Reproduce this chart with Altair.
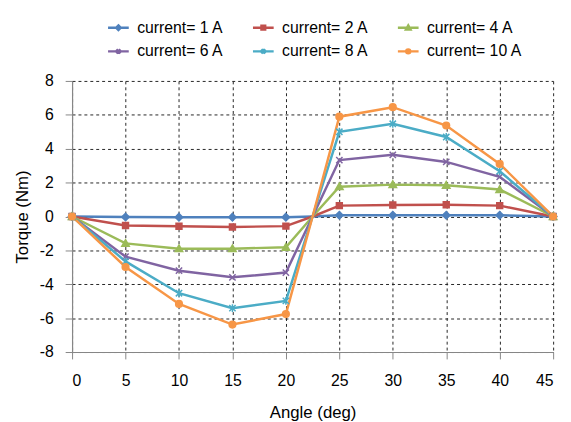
import altair as alt
import pandas as pd

# ---- data ----
angles = [0, 5, 10, 15, 20, 25, 30, 35, 40, 45]
cross_angle = 22.5      # all curves pass through 0 here (no marker drawn)
cross_torque = 0.0
series_names = ["current= 1 A", "current= 2 A", "current= 4 A",
                "current= 6 A", "current= 8 A", "current= 10 A"]
t_1A = [0, -0.03, -0.04, -0.04, -0.04, 0.07, 0.07, 0.07, 0.07, 0]
t_2A = [0, -0.53, -0.58, -0.62, -0.57, 0.64, 0.68, 0.69, 0.64, 0]
t_4A = [0, -1.59, -1.90, -1.90, -1.82, 1.76, 1.88, 1.84, 1.59, 0]
t_6A = [0, -2.37, -3.20, -3.59, -3.31, 3.33, 3.64, 3.22, 2.34, 0]
t_8A = [0, -2.65, -4.53, -5.41, -4.98, 5.00, 5.47, 4.69, 2.67, 0]
t_10A = [0, -2.98, -5.16, -6.38, -5.76, 5.89, 6.45, 5.37, 3.10, 0]
y_ticks = [-8, -6, -4, -2, 0, 2, 4, 6, 8]
x_ticks = [0, 5, 10, 15, 20, 25, 30, 35, 40, 45]

colors = ["#4F81BD", "#C0504D", "#9BBB59", "#8064A2", "#4BACC6", "#F79646"]

# marker shapes (unit box)
marker_paths = [
    "M0,-0.95L0.95,0L0,0.95L-0.95,0Z",
    "M-0.75,-0.75H0.75V0.75H-0.75Z",
    "M0,-0.95L0.95,0.75L-0.95,0.75Z",
    "M-0.8,-0.8L0.8,0.8M-0.8,0.8L0.8,-0.8",
    "M-0.8,-0.8L0.8,0.8M-0.8,0.8L0.8,-0.8M0,-1L0,1",
    "M0.85,0A0.85,0.85,0,1,1,-0.85,0A0.85,0.85,0,1,1,0.85,0Z",
]
# legend symbols: line segment + small marker
legend_paths = [
    "M-1.4,0L1.4,0M0,-0.3L0.3,0L0,0.3L-0.3,0Z",
    "M-1.4,0L1.4,0M-0.25,-0.25H0.25V0.25H-0.25Z",
    "M-1.4,0L1.4,0M0,-0.3L0.3,0.23L-0.3,0.23Z",
    "M-1.4,0L1.4,0M-0.28,-0.28L0.28,0.28M-0.28,0.28L0.28,-0.28",
    "M-1.4,0L1.4,0M-0.28,-0.28L0.28,0.28M-0.28,0.28L0.28,-0.28M0,-0.34L0,0.34",
    "M-1.4,0L1.4,0M0.27,0A0.27,0.27,0,1,1,-0.27,0A0.27,0.27,0,1,1,0.27,0Z",
]

all_vals = [t_1A, t_2A, t_4A, t_6A, t_8A, t_10A]
rows = []
for s, vals in zip(series_names, all_vals):
    for a, v in zip(angles, vals):
        rows.append({"series": s, "angle": a, "torque": v, "marker": True})
    rows.append({"series": s, "angle": cross_angle, "torque": cross_torque, "marker": False})
df = pd.DataFrame(rows)

FONT = "Liberation Sans"

x_enc = alt.X("angle:Q", scale=alt.Scale(domain=[0, 45], nice=False, zero=False),
              axis=alt.Axis(values=x_ticks, title="Angle (deg)", labelPadding=14,
                            titlePadding=16, labelExpr="'' + datum.value"))
y_enc = alt.Y("torque:Q", scale=alt.Scale(domain=[-8, 8], nice=False),
              axis=alt.Axis(values=y_ticks, title="Torque (Nm)", labelPadding=12,
                            titlePadding=8, labelExpr="'' + datum.value"))

color_scale = alt.Scale(domain=series_names, range=colors)

lines = alt.Chart(df).mark_line(strokeWidth=2.5).encode(
    x=x_enc, y=y_enc,
    color=alt.Color("series:N", scale=color_scale, legend=None, sort=series_names),
    order=alt.Order("angle:Q"),
)

points = alt.Chart(df).transform_filter("datum.marker").mark_point(
    filled=True, size=64, strokeWidth=1.5, opacity=1
).encode(
    x=x_enc, y=y_enc,
    color=alt.Color("series:N", scale=color_scale, legend=None),
    stroke=alt.Stroke("series:N", scale=color_scale, legend=None),
    shape=alt.Shape("series:N", scale=alt.Scale(domain=series_names, range=marker_paths), legend=None),
)

leg = alt.Legend(orient="none", legendX=38, legendY=-63, columns=3, direction="horizontal",
                 title=None, labelFontSize=16, labelFont=FONT, labelColor="#000",
                 labelOffset=10, symbolSize=225, symbolStrokeWidth=2.5,
                 columnPadding=24, rowPadding=7, padding=0, symbolOpacity=1)

legend_layer = alt.Chart(df).transform_filter("datum.angle < -100").mark_point(
    filled=False, size=225, strokeWidth=2.5, opacity=1
).encode(
    x=x_enc, y=y_enc,
    color=alt.Color("series:N", scale=color_scale, legend=leg, sort=series_names),
    shape=alt.Shape("series:N", scale=alt.Scale(domain=series_names, range=legend_paths),
                    legend=leg, sort=series_names),
)

chart = alt.layer(lines, points, legend_layer).resolve_scale(
    color="independent", shape="independent", stroke="independent"
).properties(
    width=488, height=275,
    autosize=alt.AutoSizeParams(type="none"),
    padding={"left": 65, "top": 71, "right": 10, "bottom": 68},
).configure_axis(
    grid=True, gridDash=[3, 3], gridColor="#262626", gridWidth=1,
    domainColor="#868686", domainWidth=1.2, tickColor="#868686", tickSize=7,
    labelFontSize=16, labelFont=FONT, labelColor="#000",
    titleFontSize=17, titleFont=FONT, titleFontWeight="normal", titleColor="#000",
).configure_view(strokeWidth=0)

chart.save("out.html", embed_options={"renderer": "svg", "actions": False})
